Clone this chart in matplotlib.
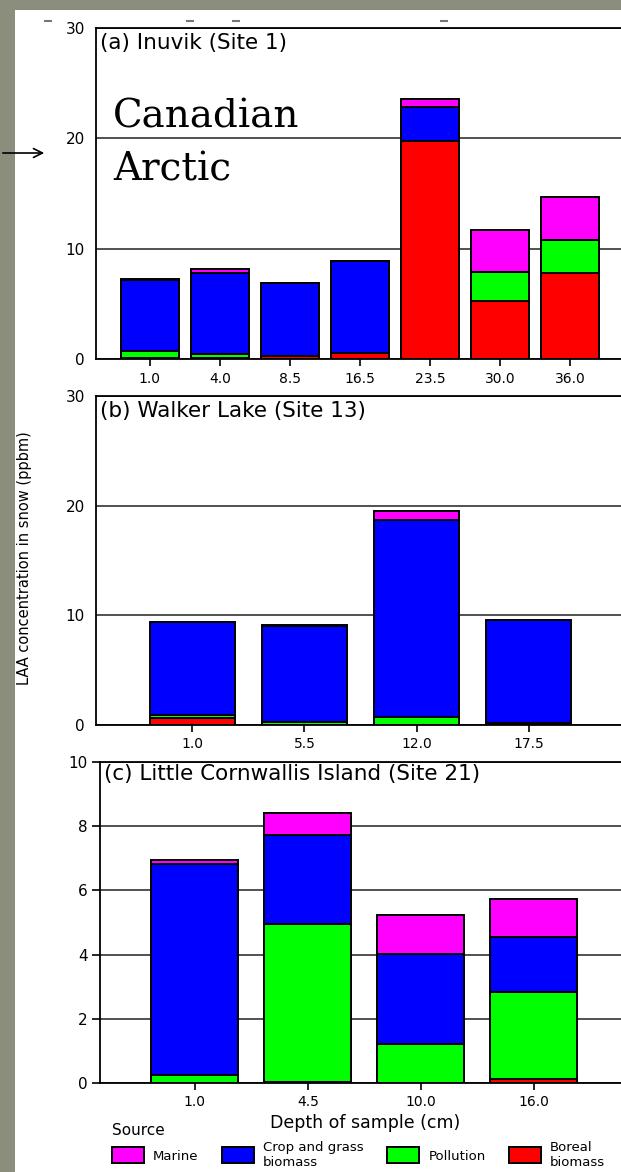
import matplotlib.pyplot as plt
import numpy as np
from matplotlib.patches import Rectangle, Patch, FancyArrowPatch
from matplotlib.lines import Line2D

# Source colours
MARINE = '#ff00ff'
CROP = '#0000ff'
POLLUTION = '#00ff00'
BOREAL = '#ff0000'

# (a) Inuvik (Site 1) - LAA by source, ppbm
inuvik_depth = ['1.0', '4.0', '8.5', '16.5', '23.5', '30.0', '36.0']
inuvik_boreal = [0.1, 0.1, 0.25, 0.5, 19.8, 5.3, 7.8]
inuvik_pollution = [0.65, 0.35, 0.0, 0.0, 0.0, 2.6, 3.0]
inuvik_crop = [6.45, 7.35, 6.65, 8.4, 3.0, 0.0, 0.0]
inuvik_marine = [0.05, 0.35, 0.0, 0.0, 0.8, 3.8, 3.9]

# (b) Walker Lake (Site 13)
walker_depth = ['1.0', '5.5', '12.0', '17.5']
walker_boreal = [0.6, 0.0, 0.0, 0.0]
walker_pollution = [0.35, 0.3, 0.7, 0.2]
walker_crop = [8.4, 8.7, 18.0, 9.35]
walker_marine = [0.0, 0.1, 0.85, 0.0]

# (c) Little Cornwallis Island (Site 21)
cornwallis_depth = ['1.0', '4.5', '10.0', '16.0']
cornwallis_boreal = [0.0, 0.03, 0.0, 0.13]
cornwallis_pollution = [0.25, 4.92, 1.21, 2.7]
cornwallis_crop = [6.57, 2.77, 2.81, 1.72]
cornwallis_marine = [0.13, 0.68, 1.21, 1.18]

W, H = 621, 1172
fig = plt.figure(figsize=(W / 100, H / 100), dpi=100, facecolor='#8b8d7d')

# white slide area
fig.add_artist(Rectangle((15 / W, 0), 1, 1 - 10 / H, transform=fig.transFigure,
                         facecolor='white', edgecolor='none', zorder=-1))


def stacked_panel(ax, depth, boreal, pollution, crop, marine, width, xlim, ylim, yticks):
    x = np.arange(len(depth))
    bottom = np.zeros(len(depth))
    for vals, col in [(boreal, BOREAL), (pollution, POLLUTION), (crop, CROP), (marine, MARINE)]:
        ax.bar(x, vals, width, bottom=bottom, color=col, edgecolor='black', linewidth=1.4)
        bottom += np.array(vals)
    ax.set_xticks(x, depth)
    ax.set_xlim(*xlim)
    ax.set_ylim(*ylim)
    ax.set_yticks(yticks)
    ax.yaxis.grid(True, color='#222222', linewidth=1.1)
    ax.set_axisbelow(True)
    ax.spines['right'].set_visible(False)
    for s in ['left', 'top', 'bottom']:
        ax.spines[s].set_linewidth(1.3)
    ax.tick_params(axis='x', length=5, width=1.2, pad=4, labelsize=10)


ax_a = fig.add_axes([96 / W, 1 - 359 / H, 528 / W, 331 / H])
stacked_panel(ax_a, inuvik_depth, inuvik_boreal, inuvik_pollution, inuvik_crop, inuvik_marine,
              0.83, (-0.77, 6.77), (0, 30), [0, 10, 20, 30])
ax_a.tick_params(axis='y', length=0, pad=8, labelsize=11)
ax_a.text(0.008, 0.985, '(a) Inuvik (Site 1)', transform=ax_a.transAxes,
          va='top', ha='left', fontsize=15.5)

ax_b = fig.add_axes([96 / W, 1 - 725 / H, 529 / W, 329 / H])
stacked_panel(ax_b, walker_depth, walker_boreal, walker_pollution, walker_crop, walker_marine,
              0.76, (-0.86, 3.86), (0, 30), [0, 10, 20, 30])
ax_b.tick_params(axis='y', length=0, pad=8, labelsize=11)
ax_b.text(0.008, 0.985, '(b) Walker Lake (Site 13)', transform=ax_b.transAxes,
          va='top', ha='left', fontsize=15.5)

ax_c = fig.add_axes([100 / W, 1 - 1083 / H, 531 / W, 321 / H])
stacked_panel(ax_c, cornwallis_depth, cornwallis_boreal, cornwallis_pollution, cornwallis_crop,
              cornwallis_marine, 0.77, (-0.84, 3.86), (0, 10), [0, 2, 4, 6, 8, 10])
ax_c.tick_params(axis='y', length=6, width=1.2, pad=3, labelsize=11)
ax_c.text(0.008, 0.995, '(c) Little Cornwallis Island (Site 21)', transform=ax_c.transAxes,
          va='top', ha='left', fontsize=15.5)
ax_c.set_xlabel('Depth of sample (cm)', fontsize=12.5, labelpad=3)

fig.text(25 / W, 1 - 558 / H, 'LAA concentration in snow (ppbm)', rotation=90,
         ha='center', va='center', fontsize=10.5)

# source legend
handles = [Patch(facecolor=c, edgecolor='black', linewidth=1.4)
           for c in [MARINE, CROP, POLLUTION, BOREAL]]
labels = ['Marine', 'Crop and grass\nbiomass', 'Pollution', 'Boreal\nbiomass']
fig.legend(handles, labels, loc='upper left', bbox_to_anchor=(112 / W, 1 - 1123 / H),
           ncol=4, frameon=False, fontsize=9.5, title='Source', title_fontsize=11,
           alignment='left', handlelength=2.4, handleheight=1.45, handletextpad=0.7,
           columnspacing=1.8, borderpad=0, borderaxespad=0, labelspacing=0.2)

# slide annotation
fig.text(113 / W, 1 - 128 / H, 'Canadian', family='DejaVu Serif', fontsize=28, va='baseline')
fig.text(113 / W, 1 - 180 / H, 'Arctic', family='DejaVu Serif', fontsize=28, va='baseline')
fig.add_artist(FancyArrowPatch((0, 1 - 153 / H), (47 / W, 1 - 153 / H), transform=fig.transFigure,
                               arrowstyle='->', mutation_scale=16, color='black', lw=1.2))

# small marks along the top edge
for x0 in [45, 187, 233, 441]:
    fig.add_artist(Line2D([x0 / W, (x0 + 6) / W], [1 - 21 / H, 1 - 21 / H],
                          transform=fig.transFigure, color='#777777', lw=1.5))

fig.savefig('out.png', dpi=100, facecolor=fig.get_facecolor())
